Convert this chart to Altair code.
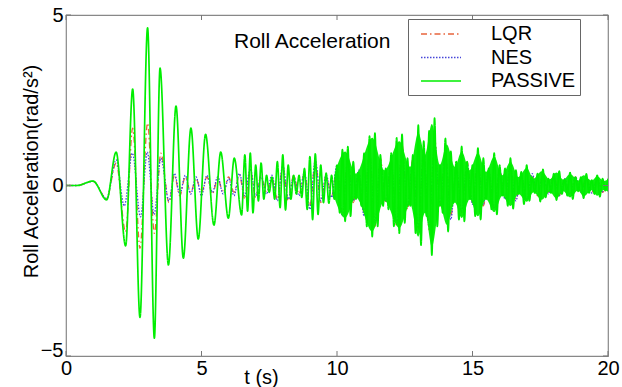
import altair as alt
import pandas as pd
import numpy as np

# ---------------- data ----------------
# PASSIVE (green): low-frequency part, extrema
passive_t_early = [0, 0.4, 1.0, 1.5, 1.85, 2.2, 2.46, 2.73, 3.01, 3.26, 3.47, 3.78,
                   4.06, 4.33, 4.61, 4.88, 5.15, 5.46, 5.71, 5.99, 6.21, 6.48]
passive_v_early = [0, 0, 0.13, -0.42, 0.98, -1.77, 2.83, -3.87, 4.62, -4.48, 3.44, -2.33,
                   2.33, -2.13, 1.68, -1.57, 1.5, -1.16, 0.98, -0.96, 0.8, -0.86]
# PASSIVE dense part: samples every 0.1 s from 6.6 s
passive_dense_start, passive_dense_step = 6.6, 0.1
passive_v_dense = [
    0.9, -0.75, 0.95, -0.8, 0.6, -0.45, 0.66, -0.4, 0.3, -0.2,          # 6.6-7.5
    0.25, -0.4, 0.7, -0.65, 0.9, -0.72, 0.6, -0.4, 0.3, -0.25,          # 7.6-8.5
    0.3, -0.35, 0.5, -0.7, 0.85, -1.0, 0.93, -0.85, 0.6, -0.5,          # 8.6-9.5
    0.36, -0.52, 0.3, -0.4, 0.6, -0.8, 1.05, -1.05, 1.14, -0.9,         # 9.6-10.5
    0.7, -0.4, 0.35, -0.6, 0.95, -1.2, 1.45, -1.5, 1.54, -1.2,          # 10.6-11.5
    0.9, -0.6, 0.5, -0.7, 0.95, -1.2, 1.4, -1.4, 1.5, -1.1,             # 11.6-12.5
    0.8, -0.6, 0.9, -1.4, 1.77, -1.75, 1.3, -0.9, 1.6, -2.04,           # 12.6-13.5
    1.98, -1.2, 0.6, -0.8, 1.38, -1.35, 1.0, -0.5, 0.7, -1.0,           # 13.6-14.5
    1.15, -1.05, 0.7, -0.4, 0.6, -0.9, 1.1, -1.0, 0.8, -0.4,            # 14.6-15.5
    0.5, -0.7, 0.95, -0.85, 0.6, -0.3, 0.5, -0.6, 0.8, -0.68,           # 15.6-16.5
    0.45, -0.25, 0.4, -0.55, 0.6, -0.45, 0.25, -0.22, 0.35, -0.47,      # 16.6-17.5
    0.47, -0.35, 0.2, -0.22, 0.35, -0.43, 0.42, -0.25, 0.18, -0.3,      # 17.6-18.5
    0.38, -0.4, 0.25, -0.17, 0.25, -0.37, 0.34, -0.22, 0.16, -0.25,     # 18.6-19.5
    0.3, -0.33, 0.2, -0.15, 0.2]                                        # 19.6-20.0

# PASSIVE envelope of the solid band (10-20 s): time, upper, lower
band_t = [9.9, 10.3, 10.7, 11.3, 11.75, 12.3, 12.7, 13.0, 13.25, 13.5, 13.8, 14.05,
          14.35, 14.6, 14.9, 15.2, 15.5, 15.8, 16.1, 16.4, 16.7, 17.0, 17.25, 17.55,
          17.85, 18.1, 18.35, 18.6, 18.9, 19.1, 19.4, 19.6, 19.85, 20.0]
band_hi = [0.3, 1.0, 0.35, 1.4, 0.45, 1.3, 0.55, 1.55, 0.9, 1.8, 0.6, 1.2,
           0.55, 1.0, 0.45, 0.95, 0.4, 0.85, 0.3, 0.7, 0.25, 0.52, 0.2, 0.42,
           0.18, 0.38, 0.17, 0.34, 0.15, 0.3, 0.14, 0.27, 0.13, 0.18]
band_lo = [-0.35, -0.95, -0.35, -1.35, -0.45, -1.25, -0.55, -1.5, -0.8, -1.8, -0.6, -1.15,
           -0.5, -0.95, -0.4, -0.9, -0.4, -0.78, -0.3, -0.6, -0.25, -0.48, -0.2, -0.42,
           -0.18, -0.38, -0.17, -0.35, -0.15, -0.32, -0.14, -0.3, -0.13, -0.18]

# LQR (red dash-dot)
lqr_t_early = [0, 0.4, 1.0, 1.5, 1.85, 2.2, 2.46, 2.73, 3.01, 3.26, 3.5]
lqr_v_early = [0, 0, 0.12, -0.38, 0.66, -1.36, 1.68, -1.84, 1.83, -1.4, 0.95]
lqr_dense_start, lqr_dense_step = 3.8, 0.2
lqr_v_dense = [
    -0.5, 0.3, -0.3, 0.25, -0.2, 0.2, -0.2, 0.25, -0.25, 0.2,
    -0.2, 0.25, -0.2, 0.3, -0.4, 0.45, -0.35, 0.3, -0.2, 0.2,
    -0.4, 0.55, -0.45, 0.3, -0.25, 0.35, -0.6, 0.7, -0.5, 0.3,
    -0.3, 0.5, -0.8, 0.85, -0.5, 0.4, -0.8, 1.1, -1.2, 0.8,
    -0.5, 0.8, -1.2, 1.2, -0.7, 0.8, -1.3, 1.1, -1.3, 1.4,
    -0.6, 1.0, -0.9, 0.6, -0.8, 0.7, -0.5, 0.8, -0.6, 0.4,
    -0.7, 0.5, -0.35, 0.6, -0.4, 0.3, -0.45, 0.3, -0.3, 0.35,
    -0.2, 0.3, -0.3, 0.2, -0.3, 0.25, -0.2, 0.25, -0.2, 0.22,
    -0.2, 0.15]

# NES (blue dotted)
nes_t_early = [0, 0.4, 1.0, 1.5, 1.85, 2.15, 2.45, 2.75, 3.0, 3.25, 3.5]
nes_v_early = [0, 0, 0.12, -0.38, 0.75, -0.6, 0.95, -0.92, 0.98, -0.85, 0.8]
nes_dense_start, nes_dense_step = 3.8, 0.2
nes_v_dense = [
    -0.45, 0.35, -0.25, 0.3, -0.25, 0.25, -0.3, 0.3, -0.2, 0.25,
    -0.25, 0.2, -0.3, 0.35, -0.3, 0.5, -0.3, 0.25, -0.25, 0.3,
    -0.45, 0.6, -0.4, 0.25, -0.3, 0.4, -0.7, 0.75, -0.45, 0.3,
    -0.35, 0.6, -0.9, 0.8, -0.45, 0.45, -0.9, 1.0, -1.1, 0.7,
    -0.45, 0.7, -1.1, 1.1, -0.6, 0.7, -1.2, 1.0, -1.2, 1.3,
    -0.55, 0.9, -1.0, 0.55, -0.75, 0.65, -0.55, 0.75, -0.55, 0.45,
    -0.65, 0.45, -0.4, 0.55, -0.45, 0.3, -0.4, 0.35, -0.25, 0.3,
    -0.25, 0.25, -0.3, 0.2, -0.25, 0.25, -0.2, 0.2, -0.22, 0.2,
    -0.18, 0.15]

series_names = ["LQR", "NES", "PASSIVE"]
series_colors = ["#e8643c", "#4646d8", "#00ee00"]
series_dashes = [[6, 3, 1.5, 3], [1.5, 1.5], [1, 0]]

x_ticks = [0, 5, 10, 15, 20]
y_ticks = [-5, 0, 5]


def build(name, t_early, v_early, start, step, v_dense):
    t_dense = [round(start + step * i, 2) for i in range(len(v_dense))]
    return pd.DataFrame({"t": list(t_early) + t_dense,
                         "val": list(v_early) + list(v_dense),
                         "series": name})


df = pd.concat([
    build("LQR", lqr_t_early, lqr_v_early, lqr_dense_start, lqr_dense_step, lqr_v_dense),
    build("NES", nes_t_early, nes_v_early, nes_dense_start, nes_dense_step, nes_v_dense),
    build("PASSIVE", passive_t_early, passive_v_early, passive_dense_start,
          passive_dense_step, passive_v_dense),
], ignore_index=True)

band_df = pd.DataFrame({"t": band_t, "val": band_hi, "lo": band_lo})

FONT = "Liberation Sans"

legend = alt.Legend(
    title=None, orient="none", legendX=342, legendY=4, direction="vertical",
    symbolType="M-2,0H2", symbolSize=400, symbolStrokeWidth=1.4,
    labelFontSize=20, labelFont=FONT, labelColor="black",
    padding=4, rowPadding=2.5, symbolOffset=18, labelOffset=39,
    strokeColor="#666666", fillColor="white",
)

x_scale = alt.Scale(domain=[0, 20], nice=False, zero=False)
y_scale = alt.Scale(domain=[-5, 5], nice=False)

x_enc = alt.X("t:Q", scale=x_scale, axis=alt.Axis(
    values=x_ticks, grid=False, domain=False, ticks=False,
    labelFontSize=20, labelFont=FONT, labelColor="black", labelPadding=2,
    labelFlush=False,
    title="t (s)", titleFontSize=20, titleFont=FONT, titleFontWeight="normal",
    titleColor="black", titleX=195, titleY=27, titleBaseline="alphabetic",
    titleAlign="center"))
y_enc = alt.Y("val:Q", scale=y_scale, axis=alt.Axis(
    values=y_ticks, grid=False, domain=False, ticks=False,
    labelFontSize=20, labelFont=FONT, labelColor="black", labelPadding=3,
    labelFlush=False,
    labelOffset={"condition": {"test": "datum.value == -5", "value": -6},
                 "value": 0},
    title="Roll Acceleration(rad/s²)", titleFontSize=20, titleFont=FONT,
    titleFontWeight="normal", titleColor="black", titleX=-35, titleY=156,
    titleAngle=270, titleBaseline="middle", titleAlign="center"))

color_enc = alt.Color("series:N", scale=alt.Scale(domain=series_names, range=series_colors),
                      legend=legend)
dash_enc = alt.StrokeDash("series:N", scale=alt.Scale(domain=series_names, range=series_dashes),
                          legend=legend)

base = alt.Chart(df)

ctrl = base.transform_filter(alt.datum.series != "PASSIVE").mark_line(
    strokeWidth=1.3, interpolate="monotone", clip=True
).encode(x=x_enc, y=y_enc, color=color_enc, strokeDash=dash_enc, detail="series:N")

passive = base.transform_filter(alt.datum.series == "PASSIVE").mark_line(
    strokeWidth=1.7, interpolate="monotone", clip=True
).encode(x=x_enc, y=y_enc, color=color_enc, strokeDash=dash_enc)

band = alt.Chart(band_df).mark_area(
    color="#00ee00", interpolate="monotone", clip=True, opacity=0.95
).encode(x=alt.X("t:Q", scale=x_scale), y=alt.Y("val:Q", scale=y_scale), y2="lo:Q")

xt = pd.DataFrame({"t": x_ticks})
yt = pd.DataFrame({"val": y_ticks})
tick_color = "#777777"
xtick_b = alt.Chart(xt).mark_rule(color=tick_color, strokeWidth=1).encode(
    x=alt.X("t:Q", scale=x_scale), y=alt.value(341), y2=alt.value(336))
xtick_t = alt.Chart(xt).mark_rule(color=tick_color, strokeWidth=1).encode(
    x=alt.X("t:Q", scale=x_scale), y=alt.value(0), y2=alt.value(5))
ytick_l = alt.Chart(yt).mark_rule(color=tick_color, strokeWidth=1).encode(
    y=alt.Y("val:Q", scale=y_scale), x=alt.value(0), x2=alt.value(5))
ytick_r = alt.Chart(yt).mark_rule(color=tick_color, strokeWidth=1).encode(
    y=alt.Y("val:Q", scale=y_scale), x=alt.value(542), x2=alt.value(537))

label = alt.Chart(pd.DataFrame({"txt": ["Roll Acceleration"]})).mark_text(
    align="left", baseline="middle", fontSize=21, font=FONT, color="black"
).encode(text="txt:N", x=alt.value(168), y=alt.value(27))

chart = alt.layer(ctrl, band, passive, xtick_b, xtick_t, ytick_l, ytick_r, label).properties(
    width=542, height=341,
    autosize=alt.AutoSizeParams(type="none"),
    padding={"left": 66, "top": 15, "right": 14, "bottom": 31},
    background="white",
).configure_view(stroke="#888888", strokeWidth=1.2)

chart.save("out.html", embed_options={"renderer": "svg", "actions": False})
